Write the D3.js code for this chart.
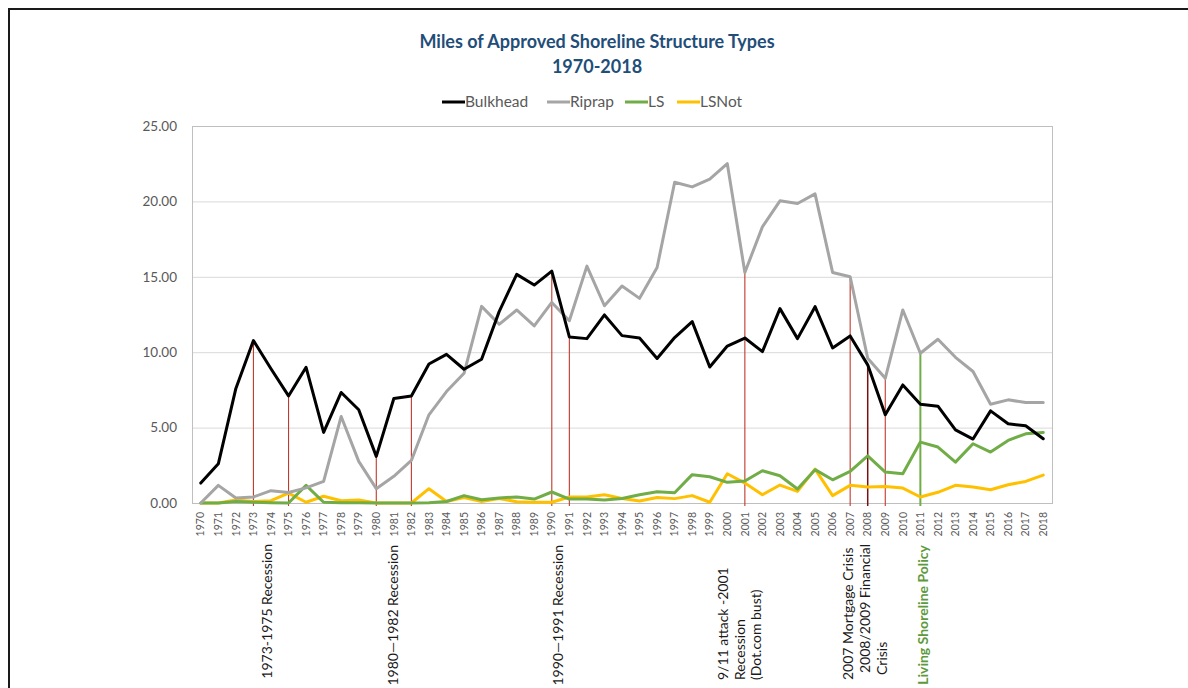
<!DOCTYPE html>
<html>
<head>
<meta charset="utf-8">
<script src="https://cdn.jsdelivr.net/npm/d3@7"></script>
<style>
  html, body { margin: 0; padding: 0; background: #fff; }
  svg { display: block; font-family: Lato, "Open Sans", sans-serif; }
</style>
</head>
<body>
<svg id="chart" width="1188" height="688"></svg>
<script>
// ---------- DATA ----------
const years = d3.range(1970, 2019);
const seriesNames = ["Bulkhead", "Riprap", "LS", "LSNot"];
const bulkhead = [1.32, 2.6, 7.6, 10.77, 8.9, 7.1, 9.0, 4.68, 7.33, 6.18,
  3.09, 6.93, 7.1, 9.22, 9.86, 8.87, 9.53, 12.69, 15.16, 14.45,
  15.38, 11.01, 10.9, 12.47, 11.1, 10.94, 9.58, 10.97, 12.03, 9.02,
  10.41, 10.94, 10.04, 12.89, 10.9, 13.02, 10.28, 11.08, 9.16, 5.85,
  7.83, 6.55, 6.42, 4.85, 4.24, 6.11, 5.25, 5.12, 4.26];
const riprap = [0.0, 1.17, 0.33, 0.4, 0.82, 0.7, 1.0, 1.43, 5.74, 2.76,
  0.95, 1.77, 2.82, 5.85, 7.39, 8.6, 13.04, 11.85, 12.8, 11.74,
  13.3, 12.09, 15.71, 13.08, 14.39, 13.57, 15.62, 21.27, 20.96, 21.47,
  22.5, 15.29, 18.31, 20.04, 19.86, 20.5, 15.29, 15.0, 9.6, 8.27,
  12.8, 9.93, 10.86, 9.66, 8.72, 6.55, 6.84, 6.66, 6.66];
const ls = [0.0, 0.0, 0.1, 0.05, 0.02, 0.0, 1.17, 0.05, 0.02, 0.02,
  0.0, 0.0, 0.0, 0.02, 0.1, 0.49, 0.22, 0.33, 0.4, 0.26,
  0.73, 0.26, 0.26, 0.2, 0.3, 0.55, 0.75, 0.68, 1.88, 1.74,
  1.37, 1.46, 2.14, 1.81, 0.93, 2.21, 1.54, 2.1, 3.13, 2.05,
  1.94, 4.04, 3.71, 2.71, 3.93, 3.38, 4.15, 4.59, 4.68];
const lsNot = [0.0, 0.0, 0.2, 0.1, 0.15, 0.65, 0.05, 0.45, 0.15, 0.2,
  0.0, 0.0, 0.0, 0.95, 0.1, 0.37, 0.1, 0.3, 0.08, 0.05,
  0.05, 0.4, 0.4, 0.55, 0.3, 0.13, 0.37, 0.29, 0.49, 0.05,
  1.94, 1.32, 0.55, 1.19, 0.77, 2.25, 0.49, 1.17, 1.06, 1.1,
  0.99, 0.4, 0.71, 1.17, 1.06, 0.88, 1.21, 1.43, 1.85];
const yTicks = [0, 5, 10, 15, 20, 25];
// event markers: year and the series whose value the marker reaches
const markerYears = [1973, 1975, 1980, 1982, 1990, 1991, 2001, 2007, 2008, 2009, 2011];
const markerSeries = ["Bulkhead", "Bulkhead", "Bulkhead", "Bulkhead", "Bulkhead", "Bulkhead",
  "Riprap", "Riprap", "Bulkhead", "Riprap", "Riprap"];
const eventLabels = [
  ["1973-1975 Recession"],
  ["1980\u20141982 Recession"],
  ["1990\u20141991 Recession"],
  ["9/11 attack -2001", "Recession", "(Dot.com bust)"],
  ["2007 Mortgage Crisis", "2008/2009 Financial", "Crisis"],
  ["Living Shoreline Policy"]
];
const titleLines = ["Miles of Approved Shoreline Structure Types", "1970-2018"];

// ---------- STYLE / LAYOUT ----------
const seriesData = { Bulkhead: bulkhead, Riprap: riprap, LS: ls, LSNot: lsNot };
const colors = { Bulkhead: "#000000", Riprap: "#a5a5a5", LS: "#70ad47", LSNot: "#ffc000" };
const plot = { left: 192, top: 126, right: 1052, bottom: 503 };

const svg = d3.select("#chart");

// outer frame
svg.append("rect").attr("x", 9).attr("y", 9).attr("width", 1200).attr("height", 700)
  .attr("fill", "none").attr("stroke", "#1a1a1a").attr("stroke-width", 2);

const x = d3.scaleBand().domain(years).range([plot.left, plot.right]);
const xc = d => x(d) + x.bandwidth() / 2;
const y = d3.scaleLinear().domain([0, 25]).range([plot.bottom, plot.top]);

// gridlines
svg.append("g").selectAll("line").data(yTicks.slice(1, -1)).join("line")
  .attr("x1", plot.left).attr("x2", plot.right)
  .attr("y1", d => y(d) + 0.5).attr("y2", d => y(d) + 0.5)
  .attr("stroke", "#d9d9d9").attr("stroke-width", 1);

// plot border
svg.append("rect").attr("x", plot.left + 0.5).attr("y", plot.top + 0.5)
  .attr("width", plot.right - plot.left).attr("height", plot.bottom - plot.top)
  .attr("fill", "none").attr("stroke", "#bfbfbf").attr("stroke-width", 1);

// y axis
const yAxis = svg.append("g").attr("transform", `translate(${plot.left - 12},0)`)
  .call(d3.axisLeft(y).tickValues(yTicks).tickFormat(d3.format(".2f")).tickSize(0));
yAxis.select(".domain").remove();
yAxis.selectAll("text").attr("font-family", "Lato, sans-serif").attr("font-size", 13.5)
  .attr("fill", "#595959");

// x axis
const xAxis = svg.append("g").attr("transform", `translate(0,${plot.bottom})`)
  .call(d3.axisBottom(x).tickSize(0));
xAxis.select(".domain").remove();
xAxis.selectAll("text")
  .attr("font-family", "Lato, sans-serif").attr("font-size", 10.5).attr("fill", "#595959")
  .attr("transform", "rotate(-90)")
  .attr("text-anchor", "end")
  .attr("x", -9).attr("y", 0).attr("dy", "0.35em");

// event marker lines
const markerColor = (yr) => yr === 2011 ? "#70ad47" : (yr === 2008 ? "#7b1010" : "#c0392b");
svg.append("g").selectAll("line").data(markerYears).join("line")
  .attr("x1", d => xc(d)).attr("x2", d => xc(d))
  .attr("y1", (d, i) => y(seriesData[markerSeries[i]][years.indexOf(d)]))
  .attr("y2", plot.bottom + 3)
  .attr("stroke", d => markerColor(d))
  .attr("stroke-width", d => d === 2011 ? 2 : (d === 2008 ? 1.5 : 1.1));

// series lines
const line = d3.line().x((d, i) => xc(years[i])).y(d => y(d));
svg.append("g").selectAll("path").data(seriesNames.slice().reverse()).join("path")
  .attr("d", n => line(seriesData[n]))
  .attr("fill", "none").attr("stroke", n => colors[n])
  .attr("stroke-width", 3).attr("stroke-linejoin", "round").attr("stroke-linecap", "round");

// title
svg.append("g").selectAll("text").data(titleLines).join("text")
  .attr("x", 597).attr("y", (d, i) => 48 + i * 25)
  .attr("text-anchor", "middle")
  .attr("font-family", "Lato, sans-serif").attr("font-weight", "bold").attr("font-size", 18)
  .attr("fill", "#1f4e79").text(d => d);

// legend
const legendX = [442, 547, 625, 677];
const lg = svg.append("g").selectAll("g").data(seriesNames).join("g")
  .attr("transform", (d, i) => `translate(${legendX[i]},102)`);
lg.append("line").attr("x1", 0).attr("x2", 23).attr("y1", 0).attr("y2", 0)
  .attr("stroke", d => colors[d]).attr("stroke-width", 3);
lg.append("text").attr("x", 23).attr("y", 0).attr("dy", "0.35em")
  .attr("font-family", "Lato, sans-serif").attr("font-size", 15.5).attr("fill", "#595959")
  .text(d => d);

// event labels
const labelLayout = [
  { cx: [267], anchor: "end", y: [544] },
  { cx: [393], anchor: "end", y: [545] },
  { cx: [558], anchor: "end", y: [545] },
  { cx: [723, 740, 756], anchor: "start", y: [680, 680, 680] },
  { cx: [848, 865, 882], anchor: "start", y: [680, 673, 675] },
  { cx: [923], anchor: "end", y: [545], bold: true, color: "#5e9a3c" }
];
eventLabels.forEach((lines, k) => {
  const L = labelLayout[k];
  lines.forEach((t, j) => {
    svg.append("text")
      .attr("transform", `translate(${L.cx[j]},${L.y[j]}) rotate(-90)`)
      .attr("dy", "0.35em")
      .attr("text-anchor", L.anchor)
      .attr("font-family", "Lato, sans-serif").attr("font-size", 14)
      .attr("font-weight", L.bold ? "bold" : "normal")
      .attr("fill", L.color || "#1a1a1a")
      .text(t);
  });
});
</script>
</body>
</html>
